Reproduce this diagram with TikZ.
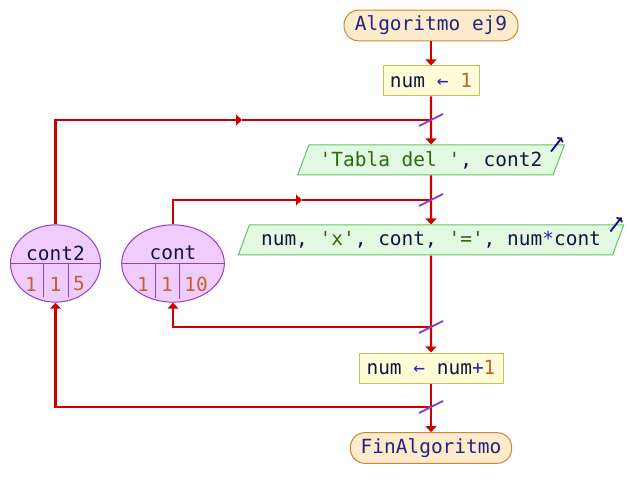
\documentclass[tikz,border=0pt]{standalone}
\usepackage{fontspec}
\setmonofont{DejaVu Sans Mono}
\usetikzlibrary{shapes,arrows.meta}

\definecolor{rojo}{HTML}{CC0000}
\definecolor{terfondo}{HTML}{FDEBCB}
\definecolor{terborde}{HTML}{C8883A}
\definecolor{procfondo}{HTML}{FFFCD8}
\definecolor{procborde}{HTML}{C8C060}
\definecolor{esfondo}{HTML}{E2FAE2}
\definecolor{esborde}{HTML}{66C266}
\definecolor{varfondo}{HTML}{F0CCFC}
\definecolor{varborde}{HTML}{9040C8}
\definecolor{morado}{HTML}{8A3FCF}
\definecolor{texto}{HTML}{141440}
\definecolor{cadena}{HTML}{2B6A12}
\definecolor{numero}{HTML}{C0632E}
\definecolor{oper}{HTML}{2828A8}
\definecolor{clave}{HTML}{242480}
\definecolor{azul}{HTML}{101080}

\begin{document}
\begin{tikzpicture}[x=0.75pt, y=-0.75pt, font=\ttfamily\fontsize{14.6}{17}\selectfont, text=texto]
    % estilos del diagrama
    \tikzstyle{terminal} = [rectangle, rounded corners=11pt, minimum height=23pt, text centered, draw=terborde, fill=terfondo, line width=0.75pt, text=clave]
    \tikzstyle{proceso} = [rectangle, minimum height=22.5pt, text centered, draw=procborde, fill=procfondo, line width=0.75pt]
    \tikzstyle{salida} = [trapezium, trapezium left angle=67, trapezium right angle=113, trapezium stretches body, minimum height=22.5pt, text centered, draw=esborde, fill=esfondo, line width=0.75pt]
    \tikzstyle{contador} = [ellipse, minimum height=58pt, draw=varborde, fill=varfondo, line width=0.75pt]
    \tikzstyle{celda} = [draw=varborde, line width=0.75pt]
    \tikzstyle{linea} = [line width=1.7pt, draw=rojo]
    \tikzstyle{flecha} = [line width=1.7pt, draw=rojo, -{Triangle[length=4.5pt,width=8pt]}]
    \tikzstyle{corte} = [line width=1.5pt, draw=morado]
    \tikzstyle{icono} = [line width=1.4pt, draw=azul, -{To[length=3pt,width=6pt]}]

    \useasboundingbox (0,0) rectangle (627,498);

    % nodos principales
    \node [terminal, minimum width=130.5pt] (inicio) at (431,25.5) {Algoritmo ej9};
    \node [proceso, minimum width=72pt] (asig1) at (431,81) {num {\color{oper}←} {\color{numero}1}};
    \node [salida, minimum width=200pt] (tabla) at (431,160) {{\color{cadena}'Tabla del '}, cont2};
    \node [salida, minimum width=289pt] (escribir) at (431,240) {num, {\color{cadena}'x'}, cont, {\color{cadena}'='}, num{\color{oper}*}cont};
    \node [proceso, minimum width=108pt] (asig2) at (431,368) {num {\color{oper}←} num{\color{oper}+}{\color{numero}1}};
    \node [terminal, minimum width=121pt] (fin) at (431,448) {FinAlgoritmo};

    % variables de los ciclos
    \node [contador, minimum width=67.5pt] (vcont2) at (55.5,263.5) {};
    \node [contador, minimum width=77pt] (vcont) at (173,263.5) {};
    \draw [celda] (vcont2.west) -- (vcont2.east);
    \draw [celda] ([shift={(-12.5,0)}]vcont2.center) -- ++(0,34);
    \draw [celda] ([shift={(12.5,0)}]vcont2.center) -- ++(0,34);
    \draw [celda] (vcont.west) -- (vcont.east);
    \draw [celda] ([shift={(-18,0)}]vcont.center) -- ++(0,35);
    \draw [celda] ([shift={(6,0)}]vcont.center) -- ++(0,36);
    \node (ncont2) at (55.5,253) {cont2};
    \node [text=numero] (c2ini) at (31,284) {1};
    \node [text=numero] (c2paso) at (55.5,284) {1};
    \node [text=numero] (c2fin) at (79,284) {5};
    \node (ncont) at (173,253) {cont};
    \node [text=numero] (cini) at (143,284) {1};
    \node [text=numero] (cpaso) at (167,284) {1};
    \node [text=numero] (cfin) at (196,284) {10};

    % puntos de union
    \coordinate (j1) at (431,120);
    \coordinate (j2) at (431,200);
    \coordinate (j3) at (431,327);
    \coordinate (j4) at (431,407);
    \coordinate (m1) at (242,120);
    \coordinate (m2) at (302,200);

    % flechas del flujo
    \draw [flecha] (inicio) -- (asig1);
    \draw [flecha] (asig1) -- (tabla);
    \draw [flecha] (tabla) -- (escribir);
    \draw [flecha] (escribir) -- (asig2);
    \draw [flecha] (asig2) -- (fin);
    \draw [flecha] (vcont2.north) |- (m1);
    \draw [linea] (m1) -- (j1);
    \draw [flecha] (vcont.north) |- (m2);
    \draw [linea] (m2) -- (j2);
    \draw [flecha] (j3) -| (vcont.south);
    \draw [flecha] (j4) -| (vcont2.south);
    \foreach \j in {j1,j2,j3,j4}
        \draw [corte] ([shift={(-12,6)}]\j) -- ([shift={(12,-6)}]\j);

    % iconos de salida
    \draw [icono] ([shift={(-14,7)}]tabla.top right corner) -- ([shift={(-3,-7)}]tabla.top right corner);
    \draw [icono] ([shift={(-14,7)}]escribir.top right corner) -- ([shift={(-3,-7)}]escribir.top right corner);
\end{tikzpicture}
\end{document}
